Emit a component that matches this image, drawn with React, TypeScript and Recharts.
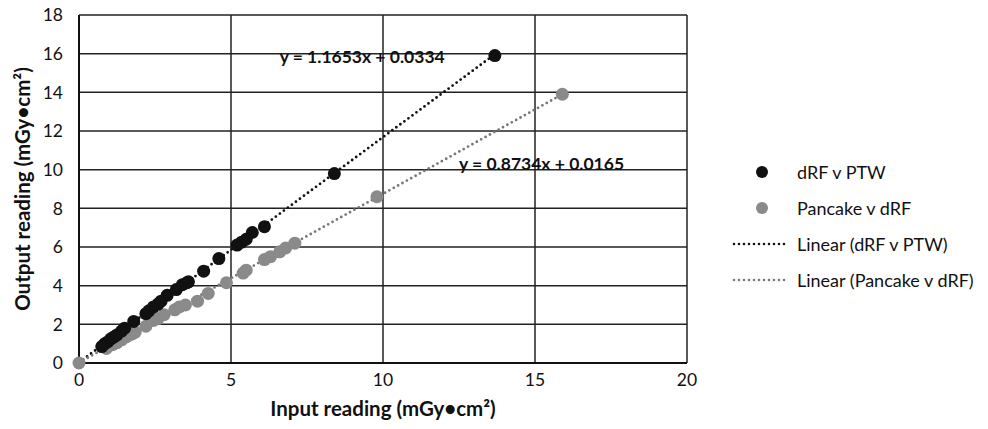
import React from "react";
import {
  CartesianGrid,
  Label,
  ReferenceDot,
  ReferenceLine,
  Scatter,
  ScatterChart,
  XAxis,
  YAxis,
} from "recharts";

// dRF v PTW readings (input, output)
const drfX = [0.75, 0.85, 0.95, 1.05, 1.15, 1.25, 1.4, 1.5, 1.8, 2.2, 2.3, 2.45, 2.6, 2.7, 2.9, 3.2, 3.4, 3.55, 3.6, 4.1, 4.6, 5.2, 5.35, 5.5, 5.7, 6.1, 8.4, 13.68];
const drfY = [0.85, 1.0, 1.1, 1.25, 1.35, 1.45, 1.65, 1.8, 2.15, 2.55, 2.7, 2.9, 3.05, 3.2, 3.5, 3.8, 4.05, 4.15, 4.2, 4.75, 5.4, 6.1, 6.25, 6.4, 6.75, 7.05, 9.8, 15.9];

// Pancake v dRF readings
const panX = [0, 0.9, 1.1, 1.25, 1.4, 1.55, 1.65, 1.75, 1.85, 2.2, 2.45, 2.6, 2.8, 3.15, 3.3, 3.5, 3.9, 4.25, 4.85, 5.4, 5.5, 6.1, 6.3, 6.6, 6.8, 7.1, 9.8, 15.9];
const panY = [0, 0.75, 0.95, 1.05, 1.2, 1.35, 1.45, 1.5, 1.6, 1.9, 2.2, 2.3, 2.5, 2.75, 2.9, 3.0, 3.2, 3.6, 4.15, 4.65, 4.8, 5.35, 5.5, 5.75, 5.95, 6.2, 8.6, 13.9];

// trend lines (start / end)
const drfTrend = [
  { x: 0, y: 0.03 },
  { x: 13.68, y: 15.97 },
];
const panTrend = [
  { x: 0, y: 0.02 },
  { x: 15.9, y: 13.9 },
];

const drfEq = "y = 1.1653x + 0.0334";
const panEq = "y = 0.8734x + 0.0165";

const xTicks = [0, 5, 10, 15, 20];
const yTicks = [0, 2, 4, 6, 8, 10, 12, 14, 16, 18];

const drfData = drfX.map((x, i) => ({ x, y: drfY[i] }));
const panData = panX.map((x, i) => ({ x, y: panY[i] }));

const BLACK = "#111111";
const GREY = "#8a8a8a";
const FONT = "Lato, 'Open Sans', sans-serif";

const dot = (color: string) => (p: any) =>
  <circle cx={p.cx} cy={p.cy} r={6.5} fill={color} />;

const eqLabel = (text: string) => (p: any) => {
  const vb = p.viewBox || {};
  return (
    <text
      x={vb.x}
      y={vb.y}
      dy={6}
      fontFamily={FONT}
      fontWeight={700}
      fontSize={17.5}
      fill="#111"
      textAnchor="start"
    >
      {text}
    </text>
  );
};

function LegendRow({ line, color, text }: { line?: boolean; color: string; text: string }) {
  return (
    <div style={{ display: "flex", alignItems: "center", height: 36 }}>
      <svg width={66} height={14}>
        {line ? (
          <line x1={3} y1={7} x2={56} y2={7} stroke={color} strokeWidth={2.6} strokeDasharray="0 5" strokeLinecap="round" />
        ) : (
          <circle cx={31} cy={7} r={6} fill={color} />
        )}
      </svg>
      <span style={{ fontFamily: FONT, fontSize: 18, color: "#111" }}>{text}</span>
    </div>
  );
}

export default function App() {
  return (
    <div style={{ position: "absolute", left: 0, top: 0, width: 988, height: 429, background: "#fff" }}>
      <ScatterChart width={988} height={429} margin={{ top: 15, right: 301, bottom: 36, left: 29 }}>
        <CartesianGrid stroke="#222" strokeWidth={1.5} />
        <XAxis
          type="number"
          dataKey="x"
          domain={[0, 20]}
          ticks={xTicks}
          height={30}
          tickLine={false}
          axisLine={{ stroke: "#111", strokeWidth: 2 }}
          tick={{ fontFamily: FONT, fontSize: 17.5, fill: "#111" }}
          tickMargin={5}
        >
          <Label
            value="Input reading (mGy•cm²)"
            position="bottom"
            offset={8}
            style={{ fontFamily: FONT, fontSize: 20.5, fontWeight: 700, fill: "#111" }}
          />
        </XAxis>
        <YAxis
          type="number"
          dataKey="y"
          domain={[0, 18]}
          ticks={yTicks}
          width={50}
          tickLine={false}
          axisLine={{ stroke: "#111", strokeWidth: 2 }}
          tick={{ fontFamily: FONT, fontSize: 17.5, fill: "#111" }}
          tickMargin={10}
        >
          <Label
            value="Output reading (mGy•cm²)"
            angle={-90}
            position="left"
            offset={6}
            style={{ fontFamily: FONT, fontSize: 20.5, fontWeight: 700, fill: "#111", textAnchor: "middle" }}
          />
        </YAxis>
        <ReferenceLine
          segment={drfTrend}
          stroke={BLACK}
          strokeWidth={2.8}
          strokeDasharray="0 5"
          strokeLinecap="round"
        />
        <ReferenceLine
          segment={panTrend}
          stroke="#777"
          strokeWidth={2.8}
          strokeDasharray="0 5"
          strokeLinecap="round"
        />
        <Scatter data={panData} fill={GREY} shape={dot(GREY)} isAnimationActive={false} />
        <Scatter data={drfData} fill={BLACK} shape={dot(BLACK)} isAnimationActive={false} />
        <ReferenceDot x={6.6} y={15.85} r={0} fill="none" stroke="none" label={eqLabel(drfEq)} />
        <ReferenceDot x={12.5} y={10.3} r={0} fill="none" stroke="none" label={eqLabel(panEq)} />
      </ScatterChart>
      <div style={{ position: "absolute", left: 731, top: 154 }}>
        <LegendRow color={BLACK} text="dRF v PTW" />
        <LegendRow color={GREY} text="Pancake v dRF" />
        <LegendRow line color={BLACK} text="Linear (dRF v PTW)" />
        <LegendRow line color="#777" text="Linear (Pancake v dRF)" />
      </div>
    </div>
  );
}
